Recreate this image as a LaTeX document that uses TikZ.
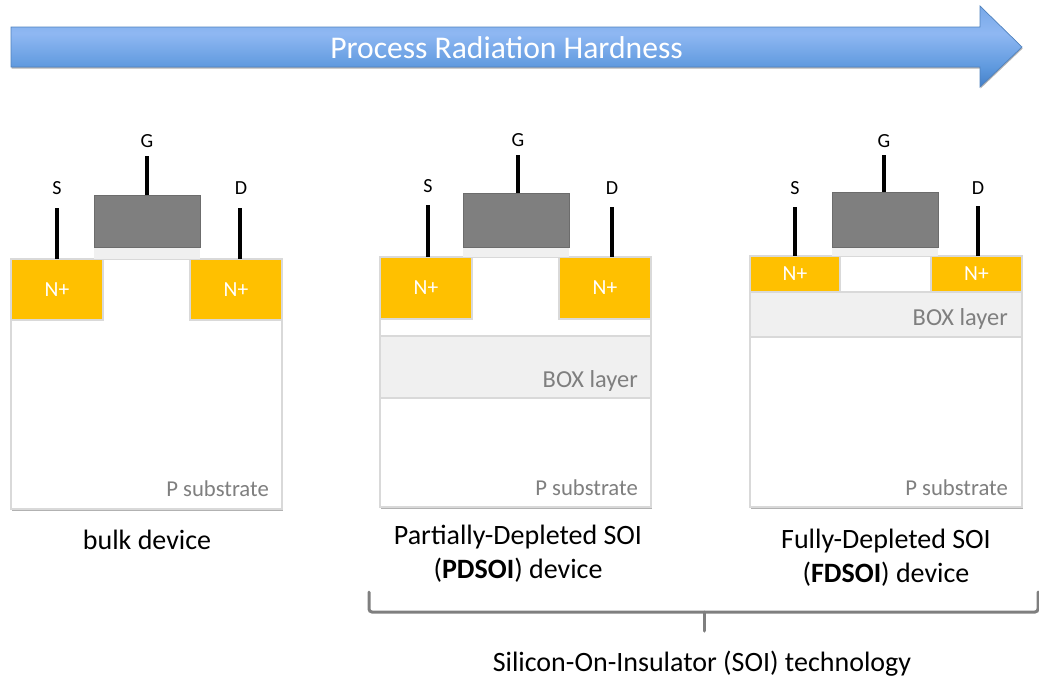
\documentclass[tikz,border=0pt]{standalone}
\usepackage{fontspec}
\setmainfont{Carlito}
\usetikzlibrary{shadows}
\definecolor{nplus}{HTML}{FFC000}
\definecolor{edgegray}{HTML}{D9D9D9}
\definecolor{boxgray}{HTML}{F0F0F0}
\definecolor{gategray}{HTML}{7F7F7F}
\definecolor{labelgray}{HTML}{7F7F7F}
\definecolor{arrowedge}{HTML}{4F81BD}
\definecolor{bracegray}{HTML}{7F7F7F}
\pgfdeclareverticalshading{arrowfill}{100bp}{rgb(0bp)=(0.27,0.50,0.78); rgb(25bp)=(0.27,0.50,0.78); rgb(37bp)=(0.37,0.60,0.87); rgb(58bp)=(0.56,0.72,0.95); rgb(75bp)=(0.47,0.66,0.91); rgb(100bp)=(0.47,0.66,0.91)}
\tikzset{
  region/.style={rectangle,inner sep=0pt,outer sep=0pt,draw=edgegray,line width=1.2pt},
  substrate/.style={region,fill=white,drop shadow={shadow xshift=0.8pt,shadow yshift=-2pt,fill=black,opacity=0.3}},
  doped/.style={region,fill=nplus,text=white,font=\fontsize{21.5}{24}\selectfont},
  oxide/.style={region,fill=boxgray},
  gateoxide/.style={rectangle,inner sep=0pt,outer sep=0pt,fill=boxgray},
  gatebox/.style={rectangle,inner sep=0pt,outer sep=0pt,fill=gategray,draw=gategray!85!black,line width=0.8pt},
  lead/.style={line width=3.5pt,black},
  term/.style={font=\fontsize{20}{22}\selectfont,inner sep=0pt,text=black},
  graylabel/.style={text=labelgray,inner sep=0pt,anchor=east},
  sublabel/.style={graylabel,font=\fontsize{22.7}{26}\selectfont},
  boxlabel/.style={graylabel,font=\fontsize{24.4}{28}\selectfont},
  caption/.style={font=\fontsize{28}{34}\selectfont,inner sep=0pt,align=center,text=black},
}
% \rgn{name}{style}{x1}{y1}{x2}{y2}{text}
\newcommand{\rgn}[7]{%
  \pgfmathsetmacro{\rgw}{#5-#3}\pgfmathsetmacro{\rgh}{#6-#4}%
  \node[#2,minimum width=\rgw pt,minimum height=\rgh pt] (#1) at ({(#3+#5)/2},{(#4+#6)/2}) {#7};}
\begin{document}
\begin{tikzpicture}[x=1pt,y=-1pt]
\useasboundingbox (0,0) rectangle (1039,680);
% top arrow
\path[shading=arrowfill,draw=arrowedge,line width=0.7pt,
  drop shadow={shadow xshift=0.6pt,shadow yshift=-1.5pt,fill=black,opacity=0.3}]
  (11,27) -- (980,27) -- (980,6) -- (1022,47) -- (980,87) -- (980,67) -- (11,67) -- cycle;
\node[text=white,font=\fontsize{31.6}{34}\selectfont,inner sep=0pt] (title) at (506.5,48) {Process Radiation Hardness};

% bulk
\rgn{subA}{substrate}{11}{259}{282}{509}{}
\rgn{lA}{doped}{11}{259}{103}{320}{N+}
\rgn{rA}{doped}{190}{259}{282}{320}{N+}
\rgn{oxA}{gateoxide}{94}{247}{200}{259}{}
\rgn{gA}{gatebox}{94}{195}{200}{247}{}
\node[sublabel] (pA) at (269,489) {P substrate};
\coordinate (sA) at (57,208);\coordinate (dA) at (240,208);\coordinate (tA) at (147,156);
\draw[lead] (sA) -- (sA |- lA.north);
\draw[lead] (dA) -- (dA |- rA.north);
\draw[lead] (tA) -- (tA |- gA.north);
\node[term] (lsA) at (57,188) {S};
\node[term] (ldA) at (241,188) {D};
\node[term] (lgA) at (147,141) {G};
\node[caption] (capA) at (147,540) {bulk device};

% PDSOI
\rgn{subB}{substrate}{380}{257}{651}{507}{}
\rgn{lB}{doped}{380}{257}{472}{319}{\raisebox{-1pt}{N+}}
\rgn{rB}{doped}{559}{257}{651}{319}{\raisebox{-1pt}{N+}}
\rgn{boxB}{oxide}{380}{336}{651}{398}{}
\rgn{oxB}{gateoxide}{463}{247}{569}{257}{}
\rgn{gB}{gatebox}{463}{193}{569}{247}{}
\node[boxlabel] (bB) at (638,380.5) {BOX layer};
\node[sublabel] (pB) at (638,487.5) {P substrate};
\coordinate (sB) at (428,205);\coordinate (dB) at (612,207);\coordinate (tB) at (518,155);
\draw[lead] (sB) -- (sB |- lB.north);
\draw[lead] (dB) -- (dB |- rB.north);
\draw[lead] (tB) -- (tB |- gB.north);
\node[term] (lsB) at (428,186) {S};
\node[term] (ldB) at (612,188) {D};
\node[term] (lgB) at (518,140) {G};
\node[caption] (capB) at (518,554) {Partially-Depleted SOI\\(\textbf{PDSOI}) device};

% FDSOI
\rgn{subC}{substrate}{750}{256}{1022}{507}{}
\rgn{lC}{doped}{750}{256}{840}{292}{\raisebox{-1pt}{N+}}
\rgn{rC}{doped}{931}{256}{1022}{292}{\raisebox{-1pt}{N+}}
\rgn{boxC}{oxide}{750}{292}{1022}{337}{}
\rgn{oxC}{gateoxide}{832}{247}{938}{256}{}
\rgn{gC}{gatebox}{832}{192}{938}{247}{}
\node[boxlabel] (bC) at (1008,318.5) {BOX layer};
\node[sublabel] (pC) at (1008,488) {P substrate};
\coordinate (sC) at (795,207);\coordinate (dC) at (978,206);\coordinate (tC) at (884,155);
\draw[lead] (sC) -- (sC |- lC.north);
\draw[lead] (dC) -- (dC |- rC.north);
\draw[lead] (tC) -- (tC |- gC.north);
\node[term] (lsC) at (795,188) {S};
\node[term] (ldC) at (978,188) {D};
\node[term] (lgC) at (884,141) {G};
\node[caption] (capC) at (886,558) {Fully-Depleted SOI\\(\textbf{FDSOI}) device};

% brace
\coordinate (brL) at (369,592);\coordinate (brR) at (1038,592);\coordinate (brM) at (704,631);
\draw[bracegray,line width=3pt,rounded corners=3pt,line cap=round] (brL) -- (369,612) -- (1038,612) -- (brR);
\draw[bracegray,line width=3pt,line cap=round] (brM) -- (704,612);
\node[caption] (capS) at (702,663.5) {Silicon-On-Insulator (SOI) technology};
\end{tikzpicture}
\end{document}
